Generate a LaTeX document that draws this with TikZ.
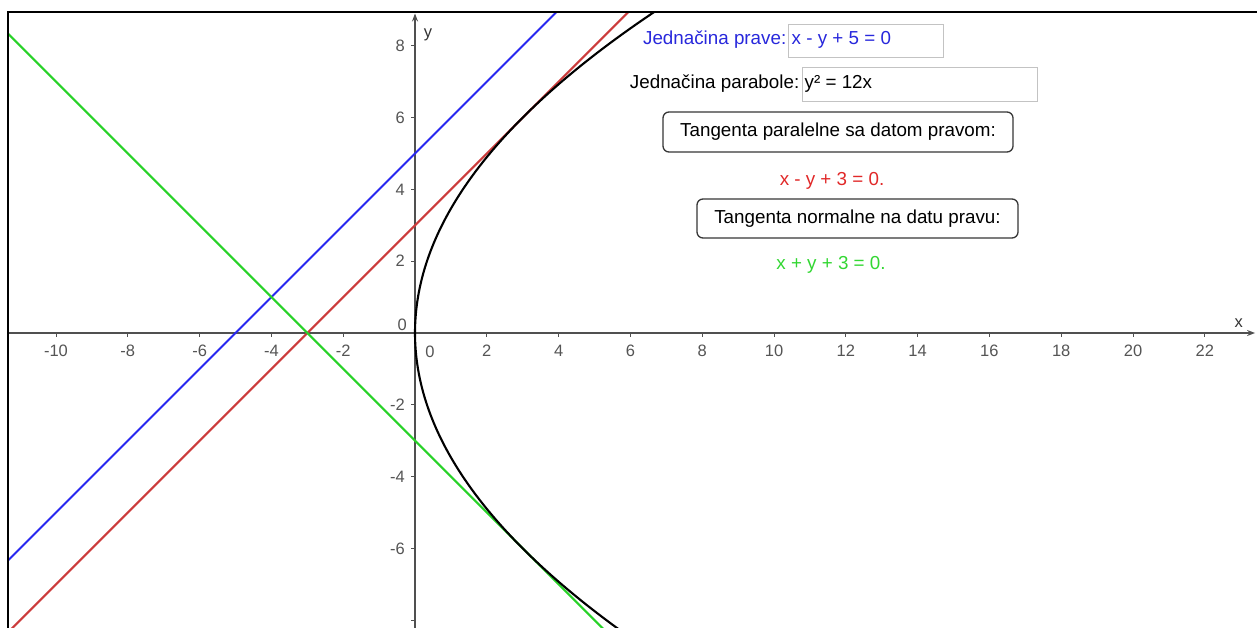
\documentclass[tikz,border=0pt]{standalone}
\usepackage{fontspec}
\setmainfont{Liberation Sans}
\usetikzlibrary{arrows.meta}
\definecolor{lineblue}{RGB}{40,40,240}
\definecolor{linered}{RGB}{204,60,60}
\definecolor{linegreen}{RGB}{40,210,40}
\definecolor{txtblue}{RGB}{40,40,220}
\definecolor{txtred}{RGB}{225,40,40}
\definecolor{txtgreen}{RGB}{50,215,50}
\definecolor{axisgray}{RGB}{80,80,80}
\definecolor{tickgray}{RGB}{85,85,85}
\definecolor{fieldgray}{RGB}{195,195,195}
\definecolor{btngray}{RGB}{55,55,55}
\begin{document}
\begin{tikzpicture}[x=1pt,y=-1pt,
  curve/.style={line width=2.1pt},
  axisline/.style={draw=axisgray,line width=1.3pt},
  ticklbl/.style={text=tickgray,font=\fontsize{16.5}{18}\selectfont,inner sep=0pt},
  uitext/.style={font=\fontsize{18.8}{22}\selectfont,inner sep=0pt},
  field/.style={draw=fieldgray,fill=white,line width=1pt,inner sep=0pt},
  button/.style={draw=btngray,fill=white,line width=1.3pt,rounded corners=6pt,inner sep=0pt}]
\useasboundingbox (0,0) rectangle (1257,628);
\fill[white] (0,0) rectangle (1257,628);
% graph
\begin{scope}
\clip (9,12) rectangle (1257,628);
\begin{scope}[shift={(415pt,-333pt)},x=35.9pt,y=35.9pt]
  % axes
  \draw[axisline,-{Stealth[length=8pt,width=6pt]}] (-11.4,0) -- (23.4,0);
  \draw[axisline,-{Stealth[length=8pt,width=6pt]}] (0,-8.4) -- (0,8.9);
  \foreach \k in {-10,-8,-6,-4,-2,2,4,6,8,10,12,14,16,18,20,22}{
    \draw[axisline,line width=1pt] (\k,0) -- ++(0pt,-4pt);
    \node[ticklbl] at ([yshift=-18pt]\k,0) {\k};
  }
  \draw[axisline,line width=1pt] (0,-8) -- ++(-4pt,0pt);
  \foreach \k in {-6,-4,-2,2,4,6,8}{
    \draw[axisline,line width=1pt] (0,\k) -- ++(-4pt,0pt);
    \node[ticklbl,anchor=east] at ([xshift=-10pt]0,\k) {\k};
  }
  \node[ticklbl,anchor=east] (yzero) at ([xshift=-8pt,yshift=8pt]0,0) {0};
  \node[ticklbl] (xzero) at ([xshift=15pt,yshift=-19pt]0,0) {0};
  \node[ticklbl,text=black!80] (xlabel) at ([xshift=-2pt,yshift=10pt]23,0) {x};
  \node[ticklbl,text=black!80] (ylabel) at ([xshift=13pt]0,8.3) {y};
  % lines
  \draw[curve,lineblue] (-12,-7) -- (4,9);
  \draw[curve,linered] (-12,-9) -- (6,9);
  \draw[curve,linegreen] (-12,9) -- (6,-9);
  % parabola
  \draw[curve,black] plot[domain=-8.5:9.1,samples=200,variable=\t] ({\t*\t/12},{\t});
\end{scope}
\end{scope}
% frame
\draw[black,line width=2pt] (8,628) -- (8,12) -- (1257,12);
% UI
\node[field,minimum width=155pt,minimum height=33pt] (f1) at (865.5,41.5) {};
\node[uitext,text=txtblue,anchor=east] (l1) at ([xshift=-1pt,yshift=1.5pt]f1.west) {Jednačina prave:};
\node[uitext,text=txtblue,anchor=west] (v1) at ([xshift=4pt,yshift=1.5pt]f1.west) {x - y + 5 = 0};
\node[field,minimum width=235pt,minimum height=34pt] (f2) at (919.5,85) {};
\node[uitext,anchor=east] (l2) at ([xshift=-2pt,yshift=1.5pt]f2.west) {Jednačina parabole:};
\node[uitext,anchor=west] (v2) at ([xshift=3pt,yshift=1.5pt]f2.west) {y² = 12x};
\node[button,minimum width=350pt,minimum height=40pt] (b1) at (838,132) {};
\node[uitext] (b1t) at (b1.center) {Tangenta paralelne sa datom pravom:};
\node[uitext,text=txtred] (r1) at (832,181) {x - y + 3 = 0.};
\node[button,minimum width=321pt,minimum height=39pt] (b2) at (857.5,218.5) {};
\node[uitext] (b2t) at (b2.center) {Tangenta normalne na datu pravu:};
\node[uitext,text=txtgreen] (r2) at (831,265) {x + y + 3 = 0.};
\end{tikzpicture}
\end{document}
